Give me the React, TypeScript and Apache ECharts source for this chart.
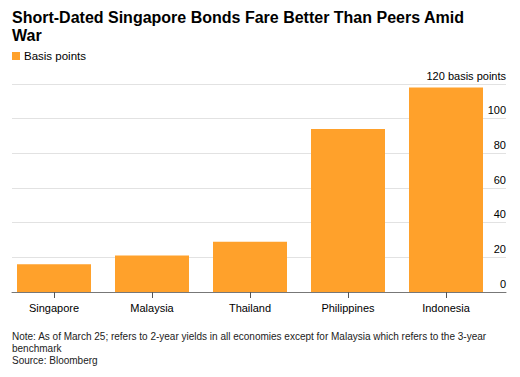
import React, { useEffect, useRef } from "react";
import * as echarts from "echarts";

const categories = ["Singapore", "Malaysia", "Thailand", "Philippines", "Indonesia"];
const basisPoints = [16, 21, 29, 94, 118];
const yTicks = { min: 0, max: 120, interval: 20 };
const titleText = "Short-Dated Singapore Bonds Fare Better Than Peers Amid\nWar";
const legendName = "Basis points";
const noteLines = [
  "Note: As of March 25; refers to 2-year yields in all economies except for Malaysia which refers to the 3-year",
  "benchmark",
  "Source: Bloomberg",
];

const FONT = "'Liberation Sans', Arial, Helvetica, sans-serif";
const ORANGE = "#ffa12b";

export default function App() {
  const ref = useRef<HTMLDivElement>(null);
  useEffect(() => {
    if (!ref.current) return;
    const chart = echarts.init(ref.current, null, { renderer: "svg" });
    chart.setOption({
      animation: false,
      backgroundColor: "#ffffff",
      textStyle: { fontFamily: FONT },
      title: {
        text: titleText,
        left: 12,
        top: 8,
        padding: 0,
        textStyle: {
          fontFamily: FONT,
          fontSize: 16,
          fontWeight: "bold",
          color: "#000",
          lineHeight: 18,
        },
      },
      legend: {
        data: [legendName],
        left: 12,
        top: 50,
        padding: 0,
        icon: "rect",
        itemWidth: 8,
        itemHeight: 8,
        itemGap: 8,
        textStyle: { fontFamily: FONT, fontSize: 11.5, color: "#000", padding: [0, 0, 0, -1] },
      },
      grid: [
        { left: 12, right: 14, top: 84, height: 208 },
        { left: 5, width: 490, top: 84, height: 208 },
      ],
      xAxis: [
        {
          type: "value",
          gridIndex: 0,
          min: 0,
          max: 1,
          axisLine: { show: true, onZero: false, lineStyle: { color: "#777", width: 1 } },
          axisTick: { show: false },
          axisLabel: { show: false },
          splitLine: { show: false },
        },
        {
          type: "category",
          gridIndex: 1,
          data: categories,
          axisLine: { show: false },
          axisTick: { show: true, alignWithLabel: true, length: 6, lineStyle: { color: "#555" } },
          axisLabel: { color: "#000", fontSize: 11, margin: 10, fontFamily: FONT },
        },
      ],
      yAxis: [
        {
          type: "value",
          gridIndex: 0,
          position: "right",
          min: yTicks.min,
          max: yTicks.max,
          interval: yTicks.interval,
          axisLine: { show: false },
          axisTick: { show: false },
          splitLine: { show: true, lineStyle: { color: "#e2e2e2", width: 1 } },
          axisLabel: {
            inside: true,
            margin: 0,
            align: "right",
            verticalAlign: "bottom",
            padding: [0, 0, 3, 0],
            color: "#000",
            fontSize: 11,
            fontFamily: FONT,
            formatter: (v: number) => (v === yTicks.max ? `${v} basis points` : `${v}`),
          },
        },
        {
          type: "value",
          gridIndex: 1,
          min: yTicks.min,
          max: yTicks.max,
          show: false,
        },
      ],
      series: [
        {
          name: legendName,
          type: "bar",
          xAxisIndex: 1,
          yAxisIndex: 1,
          data: basisPoints,
          barWidth: 74,
          itemStyle: { color: ORANGE },
          z: 1,
        },
      ],
      graphic: noteLines.map((line, i) => ({
        type: "text",
        left: 12,
        top: 331 + i * 12,
        style: { text: line, fill: "#222", fontSize: 10, fontFamily: FONT },
      })),
    });
    return () => chart.dispose();
  }, []);
  return <div ref={ref} style={{ width: 520, height: 377, position: "absolute", left: 0, top: 0 }} />;
}
